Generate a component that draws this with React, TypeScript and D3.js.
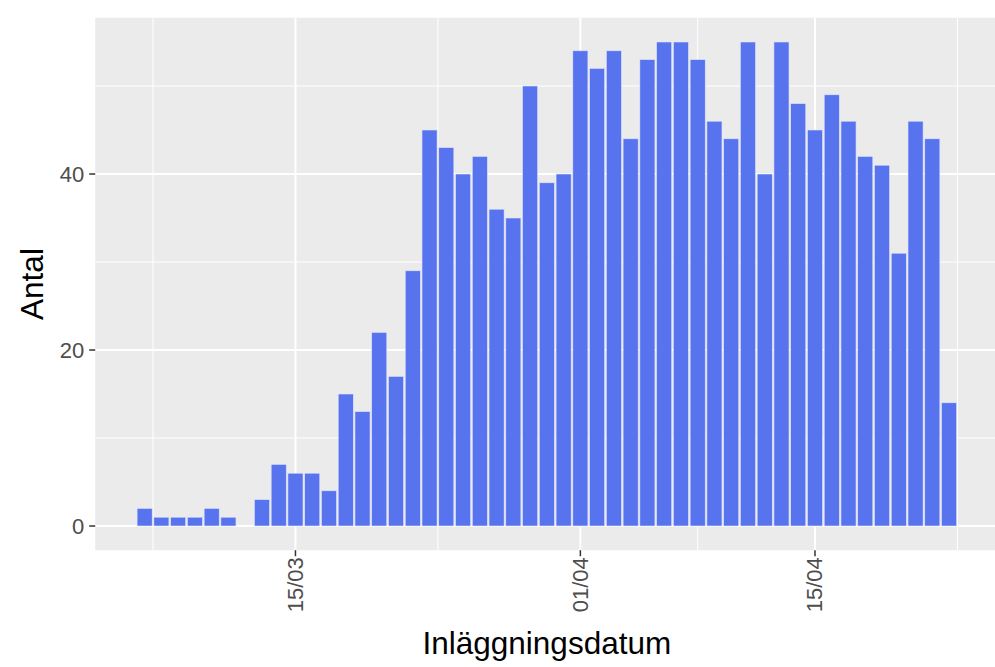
import React from 'react';
import * as d3 from 'd3';

// daily admissions, 06/03 .. 23/04 (one value per day)
const startDay = '2020-03-06';
const counts: number[] = [
    2, 1, 1, 1, 2, 1, 0, 3, 7, 6, 6, 4, 15, 13, 22, 17, 29, 45, 43, 40, 42, 36, 35, 50, 39, 40,
    54, 52, 54, 44, 53, 55, 55, 53, 46, 44, 55, 40, 55, 48, 45, 49, 46, 42, 41, 31, 46, 44, 14,
];
const xTicks: string[] = ['2020-03-15', '2020-04-01', '2020-04-15'];
const xMinorTicks: string[] = ['2020-03-06T12:00', '2020-03-23T12:00', '2020-04-08T00:00', '2020-04-23T12:00'];
const yTicks: number[] = [0, 20, 40];
const yMinorTicks: number[] = [10, 30, 50];

const DAY = 864e5;
const parse = (s: string) => new Date(s + (s.length > 10 ? ':00Z' : 'T00:00:00Z'));

const panel = { left: 95.2, right: 998.5, top: 17.8, bottom: 550.2 };

export default function App() {
    const t0 = parse(startDay).getTime();
    const data = counts.map((v, i) => ({ date: new Date(t0 + i * DAY), value: v }));

    // ggplot-like 5% expansion around the bar extent
    const lo = t0 - DAY / 2;
    const hi = t0 + (counts.length - 1) * DAY + DAY / 2;
    const pad = (hi - lo) * 0.05;
    const x = d3.scaleUtc().domain([new Date(lo - pad), new Date(hi + pad)]).range([panel.left, panel.right]);

    const yMax = d3.max(counts) as number;
    const y = d3.scaleLinear().domain([-yMax * 0.05, yMax * 1.05]).range([panel.bottom, panel.top]);

    const fmt = d3.utcFormat('%d/%m');
    const barW = x(new Date(t0 + DAY * 0.9)) - x(new Date(t0));
    const font = '"Liberation Sans", Arial, sans-serif';

    return (
        <svg width={995} height={667} style={{ position: 'absolute', left: 0, top: 0, background: '#fff' }}>
            <defs>
                <clipPath id="panel">
                    <rect x={panel.left} y={panel.top} width={panel.right - panel.left} height={panel.bottom - panel.top} />
                </clipPath>
            </defs>
            <rect x={panel.left} y={panel.top} width={panel.right - panel.left} height={panel.bottom - panel.top} fill="#EBEBEB" />
            <g clipPath="url(#panel)">
                {yMinorTicks.map(t => (
                    <line key={'ym' + t} x1={panel.left} x2={panel.right} y1={y(t)} y2={y(t)} stroke="#fff" strokeWidth={1} />
                ))}
                {xMinorTicks.map(t => (
                    <line key={'xm' + t} x1={x(parse(t))} x2={x(parse(t))} y1={panel.top} y2={panel.bottom} stroke="#fff" strokeWidth={1} />
                ))}
                {yTicks.map(t => (
                    <line key={'y' + t} x1={panel.left} x2={panel.right} y1={y(t)} y2={y(t)} stroke="#fff" strokeWidth={2} />
                ))}
                {xTicks.map(t => (
                    <line key={'x' + t} x1={x(parse(t))} x2={x(parse(t))} y1={panel.top} y2={panel.bottom} stroke="#fff" strokeWidth={2} />
                ))}
                {data.filter(d => d.value > 0).map(d => (
                    <rect
                        key={d.date.toISOString()}
                        x={x(d.date) - barW / 2}
                        y={y(d.value)}
                        width={barW}
                        height={y(0) - y(d.value)}
                        fill="#5873EE"
                        stroke="#dfe4fb"
                        strokeWidth={0.6}
                    />
                ))}
            </g>

            {/* y axis */}
            {yTicks.map(t => (
                <g key={'yt' + t}>
                    <line x1={panel.left - 6} x2={panel.left} y1={y(t)} y2={y(t)} stroke="#333" strokeWidth={1.5} />
                    <text x={panel.left - 11} y={y(t)} textAnchor="end" dominantBaseline="central"
                        fontFamily={font} fontSize={22} fill="#4D4D4D">{t}</text>
                </g>
            ))}

            {/* x axis */}
            {xTicks.map(t => {
                const px = x(parse(t));
                return (
                    <g key={'xt' + t}>
                        <line x1={px} x2={px} y1={panel.bottom} y2={panel.bottom + 6} stroke="#333" strokeWidth={1.5} />
                        <text transform={`translate(${px},${panel.bottom + 7}) rotate(-90)`} textAnchor="end" dominantBaseline="central"
                            fontFamily={font} fontSize={22} fill="#4D4D4D">{fmt(parse(t))}</text>
                    </g>
                );
            })}

            <text x={(panel.left + panel.right) / 2} y={654} textAnchor="middle" fontFamily={font} fontSize={31.5} fill="#000">
                Inläggningsdatum
            </text>
            <text transform={`translate(43,${(panel.top + panel.bottom) / 2}) rotate(-90)`} textAnchor="middle"
                fontFamily={font} fontSize={31.5} fill="#000">
                Antal
            </text>
        </svg>
    );
}
